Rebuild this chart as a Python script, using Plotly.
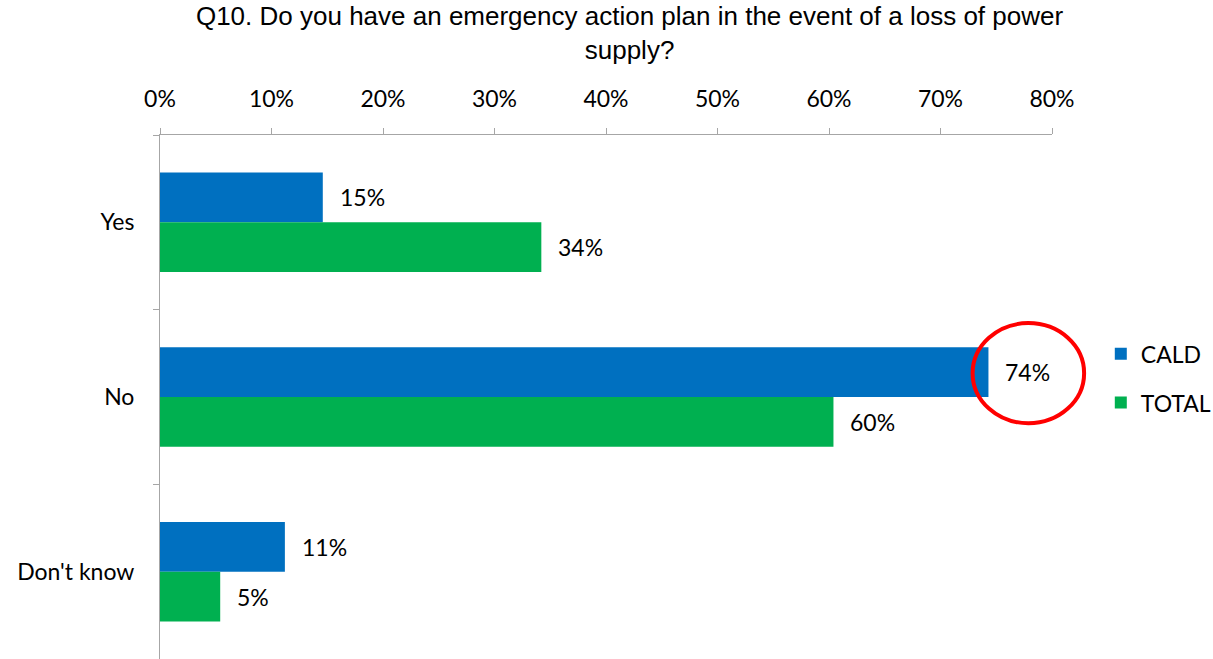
import plotly.graph_objects as go

# Survey responses (share of respondents)
categories = ["Yes", "No", "Don't know"]
cald = [0.146, 0.743, 0.112]
total = [0.342, 0.604, 0.054]
series_names = ["CALD", "TOTAL"]
tick_vals = [0, 0.1, 0.2, 0.3, 0.4, 0.5, 0.6, 0.7, 0.8]
tick_text = ["0%", "10%", "20%", "30%", "40%", "50%", "60%", "70%", "80%"]

BLUE = "#0070C0"
GREEN = "#00B050"
AXIS = "#a6a6a6"
LABEL_FONT = dict(family="Lato, Carlito, Calibri, sans-serif", size=23, color="#000000")

fig = go.Figure()
for name, vals, color, grp in [(series_names[0], cald, BLUE, "a"), (series_names[1], total, GREEN, "b")]:
    fig.add_trace(go.Bar(
        x=vals, y=categories, orientation="h", name=name,
        marker=dict(color=color, line=dict(width=0)),
        legendgroup=grp, hoverinfo="x+y",
    ))

# Value labels to the right of each bar
for vals, yshift in [(cald, 25), (total, -25)]:
    for cat, v in zip(categories, vals):
        fig.add_annotation(
            x=v, y=cat, xref="x", yref="y", text=f"{round(v * 100)}%",
            showarrow=False, xanchor="left", yanchor="middle",
            xshift=15, yshift=yshift, font=LABEL_FONT,
        )

# Highlight ring around the largest value label
fig.add_shape(
    type="circle", xref="paper", yref="paper",
    x0=0.911, x1=1.036, y0=0.450, y1=0.641,
    line=dict(color="#ff0000", width=4), fillcolor="rgba(0,0,0,0)",
)

fig.update_layout(
    width=1213, height=659,
    margin=dict(l=160, r=161, t=135, b=0, autoexpand=False),
    paper_bgcolor="white", plot_bgcolor="white",
    barmode="group", bargap=0.43, bargroupgap=0,
    title=dict(
        text="Q10. Do you have an emergency action plan in the event of a loss of power<br>supply?",
        x=0.519, xanchor="center", xref="container",
        y=0.962, yanchor="top",
        font=dict(family="Liberation Sans, Arial, sans-serif", size=26, color="#000000"),
    ),
    legend=dict(
        xref="container", yref="container",
        x=0.9075, xanchor="left", y=0.426, yanchor="middle",
        font=LABEL_FONT, tracegroupgap=16, traceorder="grouped",
        itemwidth=30, bgcolor="rgba(0,0,0,0)",
    ),
    showlegend=True,
)

fig.update_xaxes(
    side="top", range=[0, 0.8], tickvals=tick_vals, ticktext=tick_text,
    showgrid=False, zeroline=False,
    showline=True, linecolor=AXIS, linewidth=1,
    ticks="outside", ticklen=6, tickcolor=AXIS,
    tickfont=LABEL_FONT, ticklabelstandoff=12,
)
fig.update_yaxes(
    autorange="reversed", showgrid=False, zeroline=False,
    showline=True, linecolor=AXIS, linewidth=1,
    ticks="outside", ticklen=6, tickcolor=AXIS, tickson="boundaries",
    tickfont=LABEL_FONT, ticklabelstandoff=20,
)

fig.write_html("out.html")
